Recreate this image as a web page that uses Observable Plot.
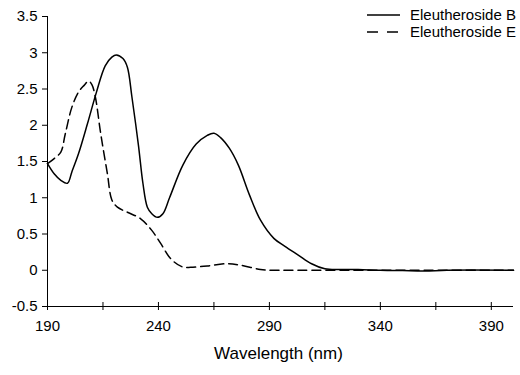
<!DOCTYPE html>
<html>
<head>
<meta charset="utf-8">
<script src="https://cdn.jsdelivr.net/npm/d3@7"></script>
<script src="https://cdn.jsdelivr.net/npm/@observablehq/plot@0.6"></script>
<style>
  html, body { margin: 0; padding: 0; background: white; }
  #wrap { position: relative; width: 520px; height: 375px; font-family: Arial, "Liberation Sans", sans-serif; }
  #legend { position: absolute; left: 360px; top: 4px; }
</style>
</head>
<body>
<div id="wrap">
  <div id="chart"></div>
  <svg id="legend" width="160" height="40" font-family="Arial, 'Liberation Sans', sans-serif" font-size="15">
    <line x1="7" x2="40" y1="11" y2="11" stroke="black" stroke-width="1.5"></line>
    <text x="50" y="11" dy="0.35em">Eleutheroside B</text>
    <line x1="7" x2="40" y1="28" y2="28" stroke="black" stroke-width="1.5" stroke-dasharray="11,9"></line>
    <text x="50" y="28" dy="0.35em">Eleutheroside E</text>
  </svg>
</div>
<script>
// Series names
const seriesNames = ["Eleutheroside B", "Eleutheroside E"];

// Eleutheroside B (solid)
const wavelengthB = [190, 193, 196, 199, 201, 204, 208, 212, 216, 219, 221, 224, 226, 228, 231, 233, 235, 237, 239.5, 242, 245, 251, 257, 262, 265, 268, 272, 276, 281, 286, 292, 297, 303, 309, 315, 322, 330, 340, 350, 360, 370, 400];
const absorbanceB = [1.47, 1.33, 1.24, 1.20, 1.36, 1.61, 2.02, 2.45, 2.82, 2.94, 2.97, 2.92, 2.80, 2.40, 1.72, 1.20, 0.87, 0.78, 0.73, 0.78, 1.00, 1.45, 1.74, 1.86, 1.89, 1.83, 1.68, 1.45, 1.04, 0.69, 0.44, 0.33, 0.21, 0.09, 0.02, 0.01, 0.01, 0, -0.005, -0.01, 0, 0];

// Eleutheroside E (dashed)
const wavelengthE = [190, 193, 196, 198, 201, 204, 206.5, 208.5, 210, 211.5, 214, 217, 219, 221.5, 226, 232, 237, 241, 245.5, 250.5, 254.5, 262, 271, 277, 286, 292, 300, 400];
const absorbanceE = [1.47, 1.54, 1.63, 1.88, 2.25, 2.46, 2.55, 2.61, 2.56, 2.40, 1.88, 1.33, 0.97, 0.87, 0.80, 0.71, 0.55, 0.37, 0.16, 0.05, 0.04, 0.06, 0.09, 0.07, 0.01, 0, 0, 0];

// Tick values
const xTickLabels = [190, 240, 290, 340, 390];
const xAllTicks = [190, 215, 240, 265, 290, 315, 340, 365, 390];
const yTickLabels = [-0.5, 0, 0.5, 1, 1.5, 2, 2.5, 3, 3.5];
const xTitle = "Wavelength (nm)";

const dataB = wavelengthB.map((w, i) => ({w, a: absorbanceB[i]}));
const dataE = wavelengthE.map((w, i) => ({w, a: absorbanceE[i]}));

const chart = Plot.plot({
  width: 520,
  height: 375,
  marginLeft: 47,
  marginRight: 7,
  marginTop: 16,
  marginBottom: 69,
  style: { fontFamily: "Arial, 'Liberation Sans', sans-serif", fontSize: "15px", background: "white", color: "black", overflow: "visible" },
  x: { domain: [190, 400] },
  y: { domain: [-0.5, 3.5] },
  marks: [
    Plot.ruleX([190], { y1: -0.5, y2: 3.5, stroke: "black" }),
    Plot.ruleY([-0.5], { x1: 190, x2: 400, stroke: "black" }),
    Plot.axisY({ ticks: yTickLabels, tickSize: 5, tickPadding: 5, tickFormat: d => String(d), label: null, fontSize: 15 }),
    Plot.axisX({ ticks: xAllTicks, tickSize: 4, tickFormat: () => "", label: null }),
    Plot.axisX({ ticks: xAllTicks, tickSize: -4, tickFormat: () => "", label: null }),
    Plot.axisX({ ticks: xTickLabels, tickSize: 0, tickPadding: 14, tickFormat: d => String(d), label: null, fontSize: 15 }),
    Plot.line(dataB, { x: "w", y: "a", curve: "catmull-rom", stroke: "black", strokeWidth: 1.5 }),
    Plot.line(dataE, { x: "w", y: "a", curve: "catmull-rom", stroke: "black", strokeWidth: 1.5, strokeDasharray: "9,5" }),
    Plot.text([xTitle], { frameAnchor: "bottom", dy: 52, dx: -2, text: d => d, fontSize: 17 })
  ]
});
document.getElementById("chart").appendChild(chart);
</script>
</body>
</html>
